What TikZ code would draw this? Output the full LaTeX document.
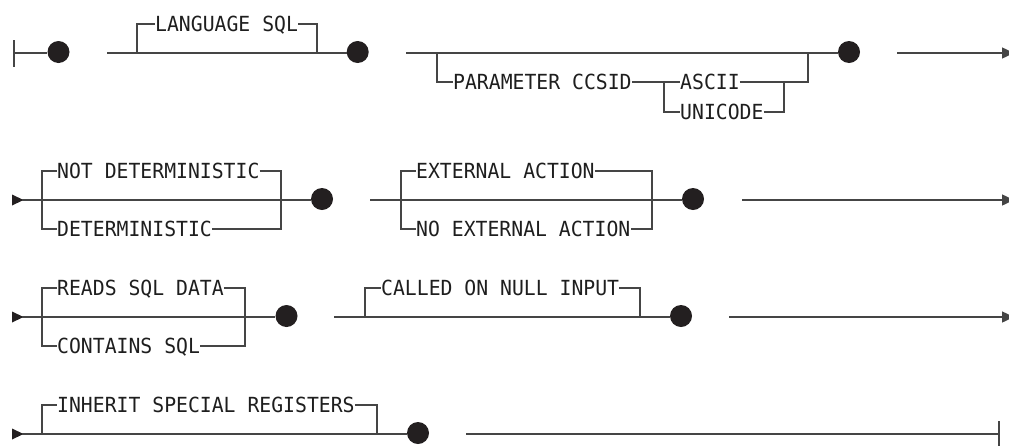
\documentclass[tikz,border=0pt]{standalone}
\usepackage{fontspec}
\newfontfamily\railfont[FakeStretch=0.95]{DejaVu Sans Mono}
\usetikzlibrary{arrows.meta}
\definecolor{linec}{HTML}{454545}
\definecolor{dotc}{HTML}{231F20}
\definecolor{textc}{HTML}{1E1E1E}

\begin{document}
\begin{tikzpicture}[x=1pt,y=-1pt,
    rail/.style={line width=1.4pt, draw=linec},
    kw/.style={font=\railfont\fontsize{20.8}{24}\selectfont, text=textc, inner sep=0pt,
        text height=15.2pt, text depth=0pt, anchor=west},
    dot/.style={circle, fill=dotc, inner sep=0pt, minimum size=22pt},
    onward/.style={-{Triangle[length=12pt,width=11pt]}}]
    \useasboundingbox (0,0) rectangle (1009,445);

    % Row 1: LANGUAGE SQL, PARAMETER CCSID
    \coordinate (s1) at (14,53);
    \draw[rail] (14,40) -- (14,67);
    \foreach \n/\x in {d1/58.5, d2/357.7, d3/849} {
        \node[dot] (\n) at (\x,52) {};
    }
    \draw[rail] (s1) -- (d1.west |- s1);
    \draw[rail] (107,53) -- (d2.west |- s1);
    \node[kw] (lang) at (155,24) {LANGUAGE SQL};
    \draw[rail] (137,53) |- (lang.west);
    \draw[rail] (lang.east) -| (317,53);
    \draw[rail] (406,53) -- (d3.west |- s1);
    \node[kw] (param) at (453,82) {PARAMETER CCSID};
    \node[kw] (ascii) at (680,82) {ASCII};
    \node[kw] (unicode) at (680,112) {UNICODE};
    \draw[rail] (437,53) |- (param.west);
    \draw[rail] (param.east) -- (ascii.west);
    \draw[rail] (664,82) |- (unicode.west);
    \draw[rail] (ascii.east) -| (808,53);
    \draw[rail] (unicode.east) -| (784,82);
    \draw[rail,onward] (897,53) -- (1014,53);

    % Entry arrows of rows 2 to 4
    \foreach \y in {200, 317, 434} {
        \fill[dotc] (12,\y-5.5) -- (23.5,\y) -- (12,\y+5.5) -- cycle;
    }

    % Row 2: DETERMINISTIC, EXTERNAL ACTION
    \foreach \n/\x in {d4/322, d5/693} {
        \node[dot] (\n) at (\x,199) {};
    }
    \draw[rail] (22,200) -- (d4.west |- 0,200);
    \node[kw] (notdet) at (57,171) {NOT DETERMINISTIC};
    \node[kw] (det) at (57,229) {DETERMINISTIC};
    \draw[rail] (notdet.west) -| (42,229) -- (det.west);
    \draw[rail] (notdet.east) -| (281,229) -- (det.east);
    \draw[rail] (370,200) -- (d5.west |- 0,200);
    \node[kw] (extact) at (416,171) {EXTERNAL ACTION};
    \node[kw] (noext) at (416,229) {NO EXTERNAL ACTION};
    \draw[rail] (extact.west) -| (401,229) -- (noext.west);
    \draw[rail] (extact.east) -| (652,229) -- (noext.east);
    \draw[rail,onward] (742,200) -- (1014,200);

    % Row 3: SQL DATA, NULL INPUT
    \foreach \n/\x in {d6/286.5, d7/681} {
        \node[dot] (\n) at (\x,316) {};
    }
    \draw[rail] (22,317) -- (d6.west |- 0,317);
    \node[kw] (reads) at (57,288) {READS SQL DATA};
    \node[kw] (contains) at (57,346) {CONTAINS SQL};
    \draw[rail] (reads.west) -| (42,346) -- (contains.west);
    \draw[rail] (reads.east) -| (245,346) -- (contains.east);
    \draw[rail] (334,317) -- (d7.west |- 0,317);
    \node[kw] (called) at (381,288) {CALLED ON NULL INPUT};
    \draw[rail] (365,317) |- (called.west);
    \draw[rail] (called.east) -| (640,317);
    \draw[rail,onward] (729,317) -- (1014,317);

    % Row 4: SPECIAL REGISTERS
    \node[dot] (d8) at (418,433) {};
    \coordinate (e4) at (999,434);
    \draw[rail] (22,434) -- (d8.west |- e4);
    \node[kw] (inherit) at (57,405) {INHERIT SPECIAL REGISTERS};
    \draw[rail] (42,434) |- (inherit.west);
    \draw[rail] (inherit.east) -| (377,434);
    \draw[rail] (466,434) -- (e4);
    \draw[rail] (999,421) -- (999,447);
\end{tikzpicture}
\end{document}
